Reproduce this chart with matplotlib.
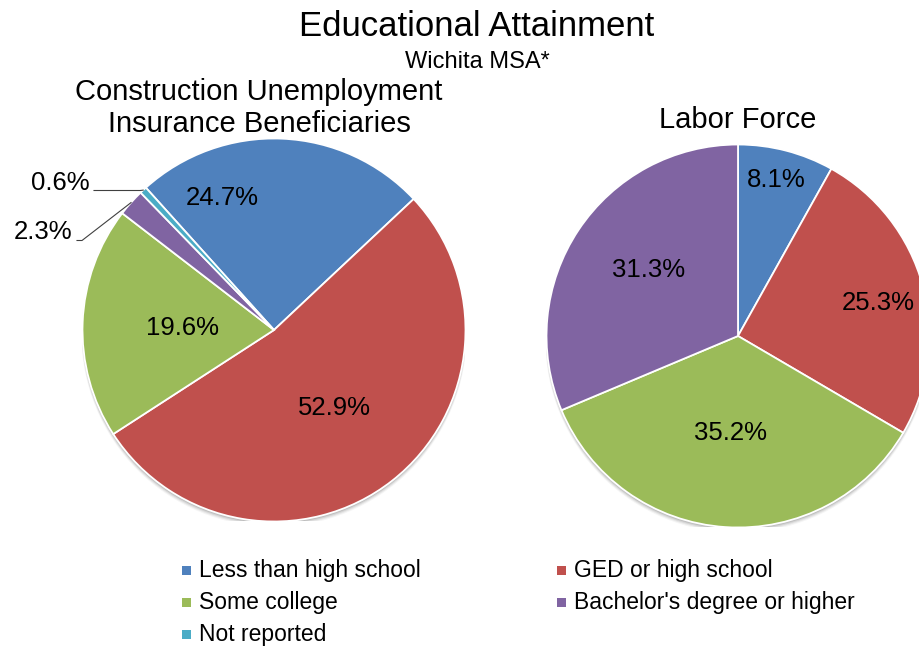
import matplotlib
matplotlib.use("Agg")
import matplotlib.pyplot as plt
from matplotlib.patches import Circle, Rectangle
import numpy as np

plt.rcParams["font.family"] = ["Liberation Sans", "DejaVu Sans"]

# ---- data ----
categories = ["Less than high school", "GED or high school", "Some college",
              "Bachelor's degree or higher", "Not reported"]
colors = ["#4F81BD", "#C0504D", "#9BBB59", "#8064A2", "#4BACC6"]

ui_values = [24.7, 52.9, 19.6, 2.3, 0.6]          # Construction UI beneficiaries
lf_values = [8.1, 25.3, 35.2, 31.3]               # Labor force (no "Not reported")

title = "Educational Attainment"
subtitle = "Wichita MSA*"
ui_title = "Construction Unemployment\nInsurance Beneficiaries"
lf_title = "Labor Force"

# ---- layout (pixel units, origin top-left) ----
W, H = 920, 647
R = 191.5
ui_center = (274, 330)
lf_center = (738, 336)
ui_start = 132
lf_start = 90

# label anchor points for each wedge (pixels)
ui_label_pos = [(222, 198), (334, 408), (183, 328), (72, 232), (90, 183)]
lf_label_pos = [(776, 180), (878, 303), (731, 433), (649, 270)]
ui_leader_text = {3: (77, 240.5), 4: (94, 190.5)}   # start of leader lines

fig = plt.figure(figsize=(W / 100, H / 100), dpi=100)
fig.patch.set_facecolor("white")


def pie_axes(center):
    cx, cy = center
    return fig.add_axes([(cx - R) / W, (H - cy - R) / H, 2 * R / W, 2 * R / H])


def draw_pie(ax, values, start):
    # soft drop shadow under the disc
    for k, a in enumerate([0.10, 0.08, 0.06, 0.04]):
        ax.add_patch(Circle((0, -0.010 - 0.004 * k), 1.0 + 0.002 * k,
                            color="black", alpha=a, lw=0, zorder=0))
    wedges, _ = ax.pie(values, colors=colors[:len(values)], startangle=start,
                       counterclock=False, radius=1,
                       wedgeprops=dict(edgecolor="white", linewidth=1.3, zorder=2))
    ax.set_xlim(-1, 1)
    ax.set_ylim(-1, 1)
    ax.axis("off")
    return wedges


ax_ui = pie_axes(ui_center)
ax_lf = pie_axes(lf_center)
draw_pie(ax_ui, ui_values, ui_start)
draw_pie(ax_lf, lf_values, lf_start)

# overlay for text, leaders and legend
ov = fig.add_axes([0, 0, 1, 1], zorder=5)
ov.set_xlim(0, W)
ov.set_ylim(H, 0)
ov.axis("off")
ov.patch.set_visible(False)

ov.text(477, 36, title, fontsize=25, ha="center", va="baseline")
ov.text(477, 68, subtitle, fontsize=17, ha="center", va="baseline")
ov.text(259, 100, ui_title.split("\n")[0], fontsize=21, ha="center", va="baseline")
ov.text(259, 132, ui_title.split("\n")[1], fontsize=21, ha="center", va="baseline")
ov.text(738, 128, lf_title, fontsize=21, ha="center", va="baseline")


def pct(v):
    return f"{v:.1f}%"


# UI pie labels
cum = 0.0
for i, v in enumerate(ui_values):
    mid = ui_start - 360.0 * (cum + v / 2) / sum(ui_values)
    cum += v
    x, y = ui_label_pos[i]
    if i in ui_leader_text:
        ov.text(x, y, pct(v), fontsize=18.5, ha="right", va="center")
        sx, sy = ui_leader_text[i]
        ex = ui_center[0] + R * np.cos(np.radians(mid))
        ey = ui_center[1] - R * np.sin(np.radians(mid))
        ov.plot([sx, sx + 5 if i == 3 else ex - 3, ex], [sy, sy, ey],
                color="#404040", lw=0.8)
    else:
        ov.text(x, y, pct(v), fontsize=18.5, ha="center", va="center")

for i, v in enumerate(lf_values):
    x, y = lf_label_pos[i]
    ov.text(x, y, pct(v), fontsize=18.5, ha="center", va="center")

# legend
legend_slots = [(182, 570), (182, 602), (182, 634), (557, 570), (557, 602)]
legend_order = [0, 2, 4, 1, 3]
for (lx, ly), idx in zip(legend_slots, legend_order):
    ov.add_patch(Rectangle((lx, ly - 4.5), 9, 9, color=colors[idx], lw=0))
    ov.text(lx + 17, ly, categories[idx], fontsize=16.5, ha="left", va="center")

fig.savefig("out.png", dpi=100, facecolor="white")
